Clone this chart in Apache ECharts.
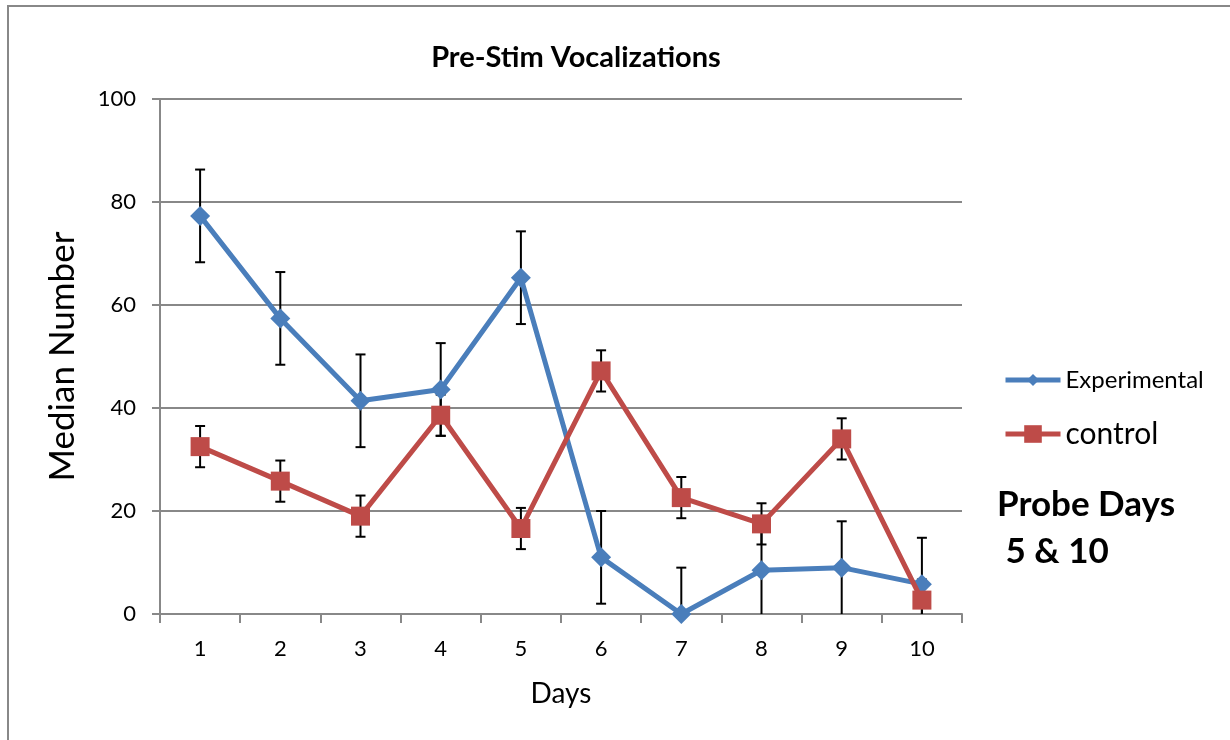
<!DOCTYPE html>
<html>
<head>
<meta charset="utf-8">
<script src="https://cdn.jsdelivr.net/npm/echarts@6/dist/echarts.min.js"></script>
<style>
  html, body { margin: 0; padding: 0; background: #fff; }
  #main { width: 1230px; height: 740px; }
</style>
</head>
<body>
<div id="main"></div>
<script>
var days = ['1', '2', '3', '4', '5', '6', '7', '8', '9', '10'];
var experimental = [77.3, 57.4, 41.4, 43.6, 65.3, 11.0, 0, 8.5, 9.0, 5.8];
var experimentalErr = [9, 9, 9, 9, 9, 9, 9, 9, 9, 9];
var control = [32.5, 25.8, 19.0, 38.6, 16.6, 47.2, 22.6, 17.5, 34.0, 2.7];
var controlErr = [4, 4, 4, 4, 4, 4, 4, 4, 4, 4];
var yTicks = [0, 20, 40, 60, 80, 100];

var FONT = 'Lato';
var blue = '#4a7ebb';
var red = '#be4b48';

function errData(vals, errs) {
    return vals.map(function (v, i) {
        return [i, Math.max(0, v - errs[i]), v + errs[i]];
    });
}

function renderErr(params, api) {
    var lo = api.coord([api.value(0), api.value(1)]);
    var hi = api.coord([api.value(0), api.value(2)]);
    var cap = 5;
    var st = { stroke: '#000', lineWidth: 2 };
    var kids = [
        { type: 'line', shape: { x1: hi[0], y1: hi[1], x2: lo[0], y2: lo[1] }, style: st },
        { type: 'line', shape: { x1: hi[0] - cap, y1: hi[1], x2: hi[0] + cap, y2: hi[1] }, style: st }
    ];
    if (api.value(1) > 0) {
        kids.push({ type: 'line', shape: { x1: lo[0] - cap, y1: lo[1], x2: lo[0] + cap, y2: lo[1] }, style: st });
    }
    return { type: 'group', children: kids };
}

var chart = echarts.init(document.getElementById('main'));

var option = {
    animation: false,
    backgroundColor: '#fff',
    title: {
        text: 'Pre-Stim Vocalizations',
        left: 571,
        textAlign: 'center',
        top: 38,
        textStyle: { fontFamily: FONT, fontWeight: 'bold', fontSize: 29, color: '#000' }
    },
    grid: { left: 160, right: 268, top: 99, bottom: 126 },
    legend: [{
        left: 1003, top: 368, padding: 0, itemWidth: 55, itemHeight: 15, itemGap: 4,
        lineStyle: { width: 5 },
        textStyle: { fontFamily: FONT, fontSize: 24, color: '#000' },
        data: ['Experimental']
    }, {
        left: 1003, top: 419, padding: 0, itemWidth: 55, itemHeight: 22, itemGap: 2,
        lineStyle: { width: 5 },
        textStyle: { fontFamily: FONT, fontSize: 30, color: '#000' },
        data: ['control']
    }],
    xAxis: {
        type: 'category',
        data: days,
        boundaryGap: true,
        name: 'Days',
        nameLocation: 'middle',
        nameGap: 66,
        nameTextStyle: { fontFamily: FONT, fontSize: 28, color: '#000' },
        axisLine: { lineStyle: { color: '#888', width: 2 } },
        axisTick: { show: true, length: 9, lineStyle: { color: '#888', width: 2 } },
        axisLabel: { fontFamily: FONT, fontSize: 22, color: '#000', margin: 24 },
        splitLine: { show: false }
    },
    yAxis: {
        type: 'value',
        min: 0, max: 100, interval: 20,
        name: 'Median Number',
        nameLocation: 'middle',
        nameGap: 80,
        nameTextStyle: { fontFamily: FONT, fontSize: 35, color: '#000' },
        axisLine: { show: true, lineStyle: { color: '#888', width: 2 } },
        axisTick: { show: true, length: 8, lineStyle: { color: '#888', width: 2 } },
        axisLabel: {
            fontFamily: FONT, fontSize: 22, color: '#000', margin: 24,
            formatter: function (v) { return yTicks.indexOf(v) >= 0 ? String(v) : ''; }
        },
        splitLine: { show: true, lineStyle: { color: '#888', width: 2 } }
    },
    graphic: [{
        type: 'rect',
        shape: { x: 8, y: 6, width: 1300, height: 800 },
        style: { fill: 'none', stroke: '#888', lineWidth: 2 },
        silent: true
    }, {
        type: 'text',
        left: 997, top: 481,
        style: {
            text: 'Probe Days\n 5 & 10',
            fontFamily: FONT, fontWeight: 'bold', fontSize: 35, lineHeight: 47, fill: '#000'
        }
    }],
    series: [{
        name: 'Experimental',
        type: 'line',
        data: experimental,
        color: blue,
        symbol: 'diamond',
        symbolSize: 20,
        lineStyle: { width: 5, color: blue },
        itemStyle: { color: blue },
        z: 3
    }, {
        name: 'control',
        type: 'line',
        data: control,
        color: red,
        symbol: 'rect',
        symbolSize: 19,
        lineStyle: { width: 5, color: red },
        itemStyle: { color: red },
        z: 4
    }, {
        name: 'expErr',
        type: 'custom',
        renderItem: renderErr,
        data: errData(experimental, experimentalErr),
        encode: { x: 0, y: [1, 2] },
        clip: true,
        z: 2
    }, {
        name: 'ctrlErr',
        type: 'custom',
        renderItem: renderErr,
        data: errData(control, controlErr),
        encode: { x: 0, y: [1, 2] },
        clip: true,
        z: 2
    }]
};

chart.setOption(option);
</script>
</body>
</html>
